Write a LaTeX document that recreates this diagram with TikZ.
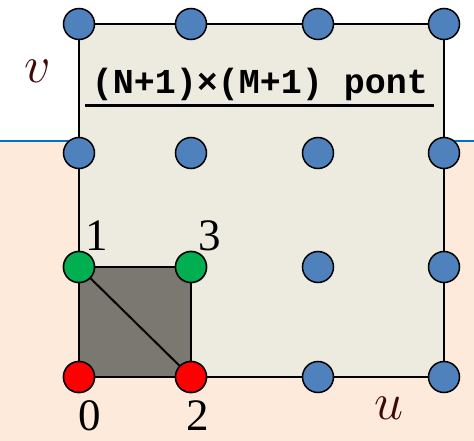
\documentclass[tikz,border=0pt]{standalone}
\usepackage{fix-cm}
\usepackage{fontspec}
\setmainfont{Liberation Serif}
\setmonofont{Liberation Mono}
\usepackage{tikz}
\usetikzlibrary{positioning}
\definecolor{gridblue}{RGB}{79, 129, 189}
\definecolor{gridgreen}{RGB}{0, 176, 80}
\definecolor{gridred}{RGB}{255, 0, 0}
\definecolor{sheetfill}{RGB}{237, 235, 224}
\definecolor{cellfill}{RGB}{122, 120, 112}
\definecolor{peach}{RGB}{253, 234, 218}
\definecolor{rulerblue}{RGB}{0, 112, 192}
\definecolor{axiscol}{RGB}{60, 8, 8}

\begin{document}
\begin{tikzpicture}[
    x=1pt, y=-1pt,
    vertex/.style={circle, draw=black, line width=1.5pt, minimum size=31pt, inner sep=0pt},
    index/.style={font=\fontsize{45}{45}\selectfont, inner sep=0pt},
    axis/.style={text=axiscol, font=\fontsize{52}{52}\selectfont, inner sep=0pt},
    frame/.style={draw=black, line width=2pt}
]
\useasboundingbox (0,0) rectangle (474,441);

% Background
\fill[white] (0,0) rectangle (474,141);
\fill[peach] (0,141) rectangle (474,441);
\draw[rulerblue, line width=2pt] (0,141) -- (474,141);

% Sheet
\fill[sheetfill] (79,24) rectangle (444,377);
\draw[frame] (79,24) rectangle (444,377);
\fill[cellfill] (79,267) rectangle (191,377);
\draw[frame] (79,267) rectangle (191,377);
\draw[frame] (79,267) -- (191,377);

% Grid points
\foreach \x [count=\i from 0] in {79,191,318,444} {
  \foreach \y [count=\j from 0] in {377,267,153,24} {
    \node[vertex, fill=gridblue] (p\i\j) at (\x,\y) {};
  }
}
\node[vertex, fill=gridred] (p00) at (79,377) {};
\node[vertex, fill=gridred] (p10) at (191,377) {};
\node[vertex, fill=gridgreen] (p01) at (79,267) {};
\node[vertex, fill=gridgreen] (p11) at (191,267) {};

% Indices
\node[index] (n0) at (90,416) {0};
\node[index] (n1) at (97,236) {1};
\node[index] (n2) at (198,416) {2};
\node[index] (n3) at (210,236) {3};

% Axes
\node[axis] (v) at (38,71) {$v$};
\node[axis] (u) at (389,408) {$u$};

% Title
\node[inner sep=0pt, font=\ttfamily\bfseries\fontsize{35}{35}\selectfont] (title) at (260,84) {(N+1)\texttimes(M+1) pont};
\draw[line width=3pt] (85,106) -- (434,106);

\end{tikzpicture}
\end{document}
